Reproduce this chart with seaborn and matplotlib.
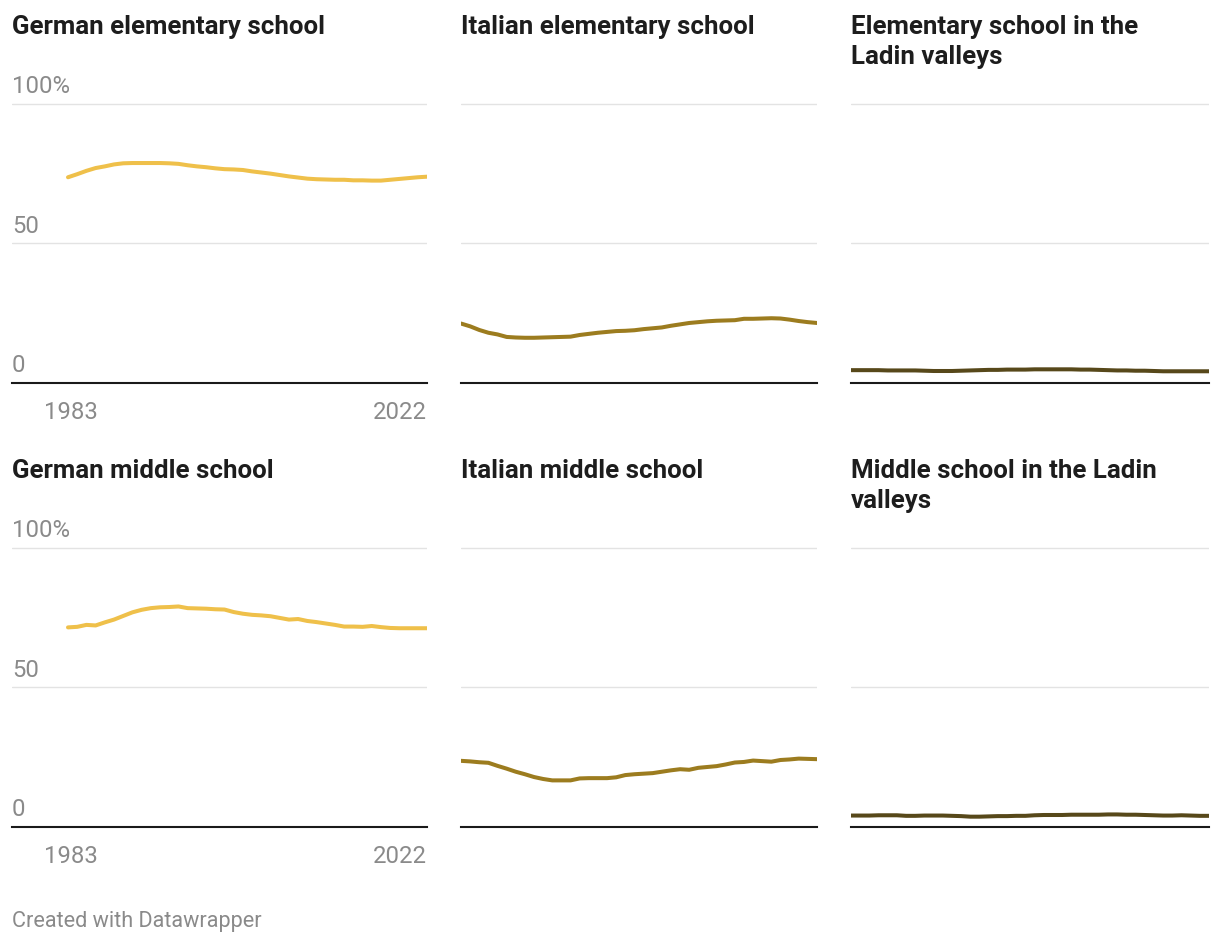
import matplotlib
matplotlib.use("Agg")
import matplotlib.pyplot as plt
import matplotlib.transforms as mtransforms
import seaborn as sns
import pandas as pd
import numpy as np

years = list(range(1983, 2023))

german_elementary = [73.7, 74.8, 76.0, 77.0, 77.6, 78.3, 78.7, 78.8, 78.8, 78.8,
                     78.8, 78.7, 78.5, 78.0, 77.6, 77.3, 76.9, 76.6, 76.5, 76.3,
                     75.8, 75.4, 75.0, 74.5, 74.0, 73.6, 73.2, 73.0, 72.9, 72.8,
                     72.8, 72.6, 72.6, 72.5, 72.5, 72.8, 73.1, 73.4, 73.7, 73.9]
italian_elementary = [21.3, 20.3, 19.0, 18.0, 17.4, 16.5, 16.3, 16.2, 16.2, 16.3,
                      16.4, 16.5, 16.6, 17.2, 17.6, 18.0, 18.3, 18.6, 18.7, 18.9,
                      19.3, 19.6, 19.9, 20.5, 21.0, 21.5, 21.8, 22.1, 22.3, 22.4,
                      22.5, 23.0, 23.0, 23.1, 23.2, 23.1, 22.7, 22.2, 21.8, 21.5]
ladin_elementary = [4.6, 4.6, 4.6, 4.6, 4.5, 4.5, 4.5, 4.5, 4.4, 4.3,
                    4.3, 4.3, 4.4, 4.5, 4.6, 4.7, 4.7, 4.8, 4.8, 4.8,
                    4.9, 4.9, 4.9, 4.9, 4.9, 4.8, 4.8, 4.7, 4.6, 4.5,
                    4.5, 4.4, 4.4, 4.3, 4.2, 4.2, 4.2, 4.2, 4.2, 4.2]
german_middle = [71.5, 71.7, 72.4, 72.2, 73.3, 74.3, 75.6, 76.9, 77.8, 78.4,
                 78.7, 78.8, 79.0, 78.4, 78.3, 78.2, 78.0, 77.9, 77.0, 76.4,
                 76.0, 75.8, 75.5, 74.9, 74.3, 74.5, 73.8, 73.4, 72.9, 72.4,
                 71.8, 71.8, 71.7, 72.0, 71.6, 71.3, 71.2, 71.2, 71.2, 71.2]
italian_middle = [23.7, 23.5, 23.2, 23.0, 21.9, 20.9, 19.8, 18.9, 17.9, 17.2,
                  16.7, 16.7, 16.7, 17.4, 17.5, 17.5, 17.5, 17.8, 18.6, 18.9,
                  19.1, 19.3, 19.8, 20.3, 20.7, 20.5, 21.2, 21.5, 21.8, 22.4,
                  23.1, 23.3, 23.8, 23.6, 23.4, 24.0, 24.2, 24.5, 24.4, 24.3]
ladin_middle = [4.1, 4.1, 4.1, 4.2, 4.2, 4.2, 4.0, 4.0, 4.1, 4.1,
                4.1, 4.0, 3.9, 3.7, 3.7, 3.8, 3.9, 3.9, 4.0, 4.0,
                4.2, 4.3, 4.3, 4.3, 4.4, 4.4, 4.4, 4.4, 4.5, 4.5,
                4.4, 4.4, 4.3, 4.2, 4.1, 4.1, 4.2, 4.1, 4.0, 4.0]

titles = ["German elementary school", "Italian elementary school",
          "Elementary school in the\nLadin valleys",
          "German middle school", "Italian middle school",
          "Middle school in the Ladin\nvalleys"]
series = [german_elementary, italian_elementary, ladin_elementary,
          german_middle, italian_middle, ladin_middle]
colors = ["#efc04a", "#9c7c1f", "#57481a", "#efc04a", "#9c7c1f", "#57481a"]
y_ticks = [0, 50, 100]
y_tick_labels = ["0", "50", "100%"]
x_tick_labels = ["1983", "2022"]

sns.set_theme(style="white")
plt.rcParams["font.family"] = ["Roboto", "DejaVu Sans"]

W, H = 1220, 944
fig = plt.figure(figsize=(W / 100, H / 100), dpi=100)

col_left = [12, 461, 851]
col_right = [427, 817, 1209]
data_left0 = 68
row_top = [103, 547]
row_bottom = [383, 827]
title_top = [15, 459]

for i, (title, vals, color) in enumerate(zip(titles, series, colors)):
    r, c = divmod(i, 3)
    l, rgt = col_left[c], col_right[c]
    t, b = row_top[r], row_bottom[r]
    ax = fig.add_axes([l / W, 1 - b / H, (rgt - l) / W, (b - t) / H])
    df = pd.DataFrame({"year": years, "value": vals})
    sns.lineplot(data=df, x="year", y="value", ax=ax, color=color,
                 linewidth=2.9, solid_capstyle="round", solid_joinstyle="round")
    if c == 0:
        span = 2022 - 1983
        ext = (data_left0 - l) / (rgt - data_left0) * span
        ax.set_xlim(1983 - ext, 2022)
    else:
        ax.set_xlim(1983, 2022)
    ax.set_ylim(0, 100.3)
    ax.set_yticks(y_ticks)
    ax.set_yticklabels([])
    ax.set_xticks([])
    ax.grid(axis="y", color="#e3e3e3", linewidth=1.0)
    ax.set_xlabel("")
    ax.set_ylabel("")
    for s in ["top", "left", "right"]:
        ax.spines[s].set_visible(False)
    ax.spines["bottom"].set_color("#1a1a1a")
    ax.spines["bottom"].set_linewidth(1.5)
    ax.tick_params(left=False, bottom=False)

    fig.text(l / W, 1 - title_top[r] / H, title, ha="left", va="top",
             fontsize=18.6, fontweight="bold", color="#1d1d1d", linespacing=1.29)

    if c == 0:
        trans = mtransforms.blended_transform_factory(ax.transAxes, ax.transData)
        for v, lab in zip(y_ticks, y_tick_labels):
            ax.annotate(lab, xy=(0, v), xycoords=trans, xytext=(0, 4),
                        textcoords="offset points", ha="left", va="bottom",
                        fontsize=17.2, color="#8a8a8a")
        ax.annotate(x_tick_labels[0], xy=(1983, 0), xycoords=("data", "data"),
                    xytext=(2, -13), textcoords="offset points", ha="center",
                    va="top", fontsize=17.2, color="#8a8a8a")
        ax.annotate(x_tick_labels[1], xy=(2022, 0), xycoords=("data", "data"),
                    xytext=(0, -13), textcoords="offset points", ha="right",
                    va="top", fontsize=17.2, color="#8a8a8a")

fig.text(12 / W, 1 - 922 / H, "Created with Datawrapper", ha="left",
         va="center", fontsize=15.6, color="#8a8a8a")

fig.savefig("out.png", dpi=100, facecolor="white")
